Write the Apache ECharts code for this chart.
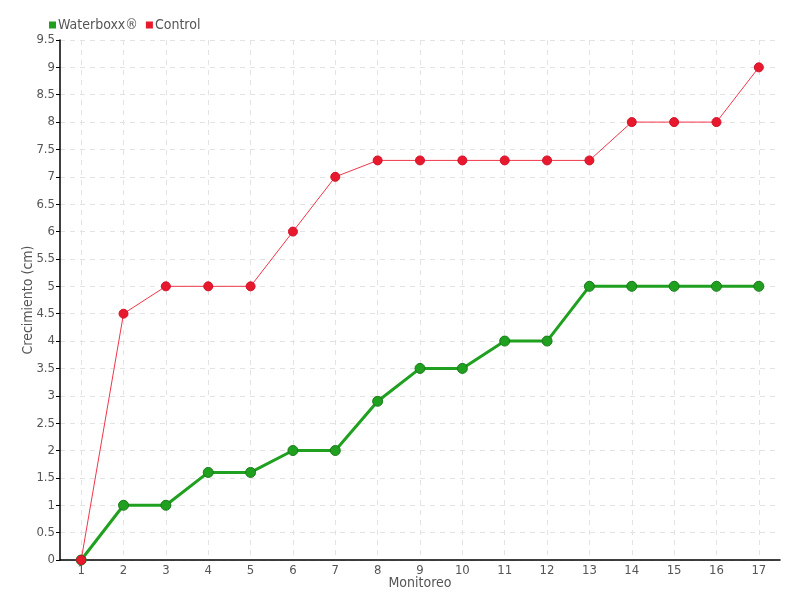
<!DOCTYPE html>
<html><head><meta charset="utf-8">
<script src="https://cdn.jsdelivr.net/npm/echarts@6/dist/echarts.min.js"></script>
<style>html,body{margin:0;padding:0;background:#fff}#c{width:800px;height:600px}</style>
</head><body><div id="c"></div>
<script>
const categories = ['1','2','3','4','5','6','7','8','9','10','11','12','13','14','15','16','17'];
const waterboxx = [0,1,1,1.6,1.6,2,2,2.9,3.5,3.5,4,4,5,5,5,5,5];
const control = [0,4.5,5,5,5,6,7,7.3,7.3,7.3,7.3,7.3,7.3,8,8,8,9];
const seriesNames = ['Waterboxx®','Control'];
const font = '"DejaVu Sans Condensed", "Roboto Condensed", sans-serif';
const chart = echarts.init(document.getElementById('c'), null, {renderer:'canvas'});
chart.setOption({
  animation:false,
  textStyle:{fontFamily:font},
  legend:{left:44, top:13, itemWidth:7, itemHeight:7, itemGap:8, icon:'rect',
    itemStyle:{borderWidth:0},
    textStyle:{fontFamily:font, fontSize:14, color:'#555', padding:[0,0,0,-3]},
    data:seriesNames},
  grid:{left:60, right:20, top:40, bottom:40, containLabel:false, outerBoundsMode:'none'},
  xAxis:{type:'category', data:categories, boundaryGap:true,
    name:'Monitoreo', nameLocation:'middle', nameGap:16, nameMoveOverlap:false,
    nameTextStyle:{fontFamily:font, fontSize:14, color:'#555'},
    axisLine:{lineStyle:{color:'#000', width:1.5}},
    axisTick:{alignWithLabel:true, length:4, lineStyle:{color:'#000'}},
    axisLabel:{fontFamily:font, fontSize:13, color:'#555', margin:4},
    splitLine:{show:true, alignWithLabel:true, lineStyle:{color:'#e3e3e3', type:[5,5]}}},
  yAxis:{type:'value', min:0, max:9.5, interval:0.5,
    name:'Crecimiento (cm)', nameLocation:'middle', nameGap:25, nameMoveOverlap:false,
    nameTextStyle:{fontFamily:font, fontSize:14, color:'#555'},
    axisLine:{show:true, lineStyle:{color:'#000', width:1.5}},
    axisTick:{show:true, length:4, lineStyle:{color:'#000'}},
    axisLabel:{fontFamily:font, fontSize:13, color:'#555', margin:5},
    splitLine:{show:true, lineStyle:{color:'#e3e3e3', type:[5,5]}}},
  series:[
    {name:seriesNames[0], type:'line', data:waterboxx, symbol:'circle', symbolSize:10,
     itemStyle:{color:'#1fa01f', borderColor:'#1a7a1a', borderWidth:1},
     lineStyle:{color:'#1fa01f', width:3}},
    {name:seriesNames[1], type:'line', data:control, symbol:'circle', symbolSize:9,
     itemStyle:{color:'#e8192c', borderColor:'#d0102a', borderWidth:1},
     lineStyle:{color:'#f0364a', width:1}}
  ]
});
</script></body></html>
